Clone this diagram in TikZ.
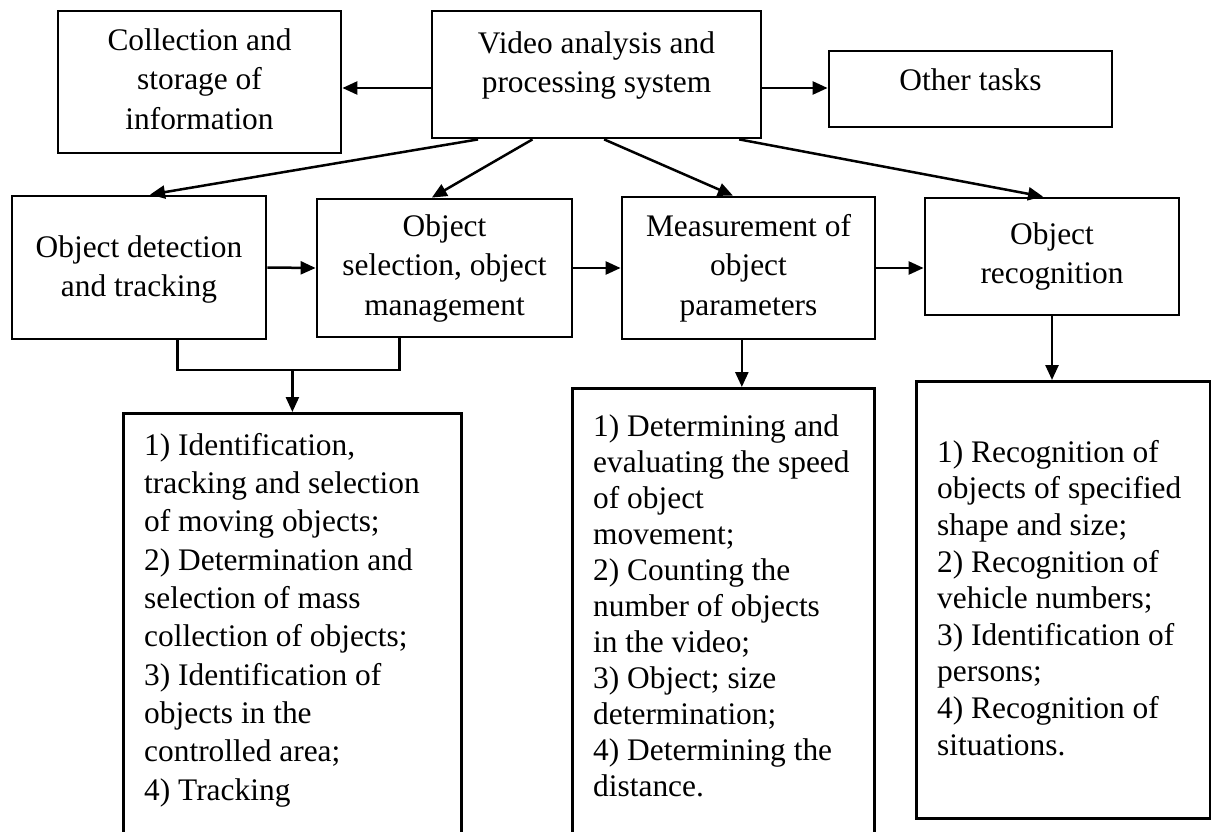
\documentclass[tikz,border=0pt]{standalone}
\usepackage{fontspec}
\setmainfont{Liberation Serif}
\usetikzlibrary{arrows.meta,calc}
\begin{document}
\begin{tikzpicture}[x=1pt,y=-1pt,
  box/.style={draw, line width=2.8pt, inner sep=0pt, align=center,
    font=\fontsize{31.4pt}{39.5pt}\selectfont},
  listbox/.style={draw, line width=2.8pt, inner sep=0pt, anchor=north west},
  listtext/.style={inner sep=0pt, align=left, anchor=north west},
  conn/.style={line width=2.5pt},
  arr/.style={conn, -{Triangle[length=15pt,width=13pt]}},
]
\useasboundingbox (0,0) rectangle (1211,832);

% top row
\node[box, minimum width=283pt, minimum height=142pt, text depth=6pt] (coll) at (199.5,82)
  {Collection and\\storage of\\information};
\node[box, minimum width=329pt, minimum height=127pt, text depth=25pt] (video) at (596.5,74.5)
  {Video analysis and\\processing system};
\node[box, minimum width=283pt, minimum height=76pt, text depth=18pt] (other) at (970.5,89)
  {Other tasks};

% middle row
\node[box, minimum width=254pt, minimum height=143pt, text depth=3pt] (det) at (139,267.5)
  {Object detection\\and tracking};
\node[box, minimum width=255pt, minimum height=138pt] (sel) at (444.5,268)
  {Object\\selection, object\\management};
\node[box, minimum width=253pt, minimum height=142pt] (meas) at (748.5,268)
  {Measurement of\\object\\parameters};
\node[box, minimum width=254pt, minimum height=117pt] (rec) at (1052,256.5)
  {Object\\recognition};

% bottom row
\node[listbox, minimum width=338pt, minimum height=440pt] (b1) at (122,412) {};
\node[listtext, font=\fontsize{31.4pt}{38.3pt}\selectfont] (t1) at (144,433)
  {1) Identification,\\tracking and selection\\of moving objects;\\2) Determination and\\selection of mass\\collection of objects;\\3) Identification of\\objects in the\\controlled area;\\4) Tracking};
\node[listbox, minimum width=302pt, minimum height=460pt] (b2) at (571,387) {};
\node[listtext, font=\fontsize{31.4pt}{36pt}\selectfont] (t2) at (593,415)
  {1) Determining and\\evaluating the speed\\of object\\movement;\\2) Counting the\\number of objects\\in the video;\\3) Object; size\\determination;\\4) Determining the\\distance.};
\node[listbox, minimum width=294pt, minimum height=437pt] (b3) at (915,380) {};
\node[listtext, font=\fontsize{31.4pt}{36.6pt}\selectfont] (t3) at (937,440)
  {1) Recognition of\\objects of specified\\shape and size;\\2) Recognition of\\vehicle numbers;\\3) Identification of\\persons;\\4) Recognition of\\situations.};

% connectors from the central box
\coordinate (vl) at ([yshift=-13.5pt]video.west);
\coordinate (vr) at ([yshift=-13.5pt]video.east);
\draw[arr] (vl) -- (vl -| coll.east);
\draw[arr] (vr) -- (vr -| other.west);

\draw[arr] ($(video.south west)!0.143!(video.south east)$) -- ($(det.north west)!0.543!(det.north east)$);
\draw[arr] ($(video.south west)!0.307!(video.south east)$) -- ($(sel.north west)!0.451!(sel.north east)$);
\draw[arr] ($(video.south west)!0.523!(video.south east)$) -- ($(meas.north west)!0.439!(meas.north east)$);
\draw[arr] ($(video.south west)!0.930!(video.south east)$) -- ($(rec.north west)!0.465!(rec.north east)$);

% chain of the middle row
\draw[arr] (det.east) -- (sel.west);
\draw[arr] (sel.east) -- (meas.west);
\draw[arr] (meas.east) -- (meas.east -| rec.west);

% joined link down to the first list
\coordinate (dj) at ($(det.south west)!0.65!(det.south east)$);
\coordinate (sj) at ($(sel.south west)!0.325!(sel.south east)$);
\coordinate (jn) at (b1.north |- 0,370);
\draw[conn] (dj) |- (sj |- jn) -- (sj);
\draw[arr] (jn) -- (b1.north);

% links down to the other lists
\coordinate (mj) at ($(meas.south west)!0.474!(meas.south east)$);
\draw[arr] (mj) -- (mj |- b2.north);
\draw[arr] (rec.south) -- (rec.south |- b3.north);
\end{tikzpicture}
\end{document}
